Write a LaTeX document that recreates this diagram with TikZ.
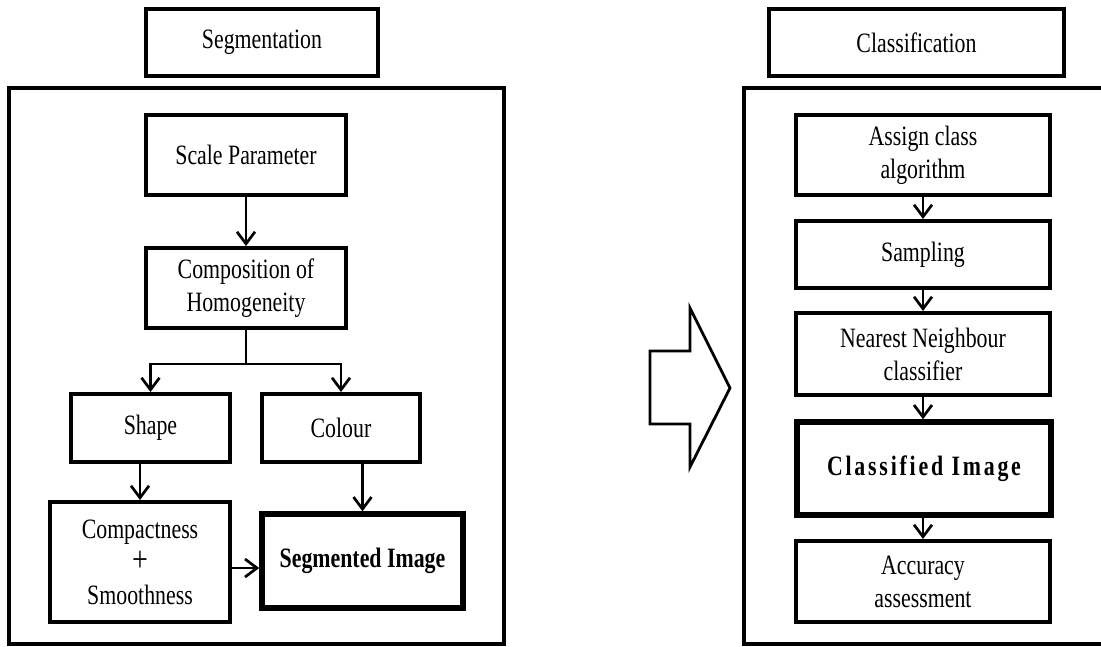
\documentclass[tikz,border=0pt]{standalone}
\usepackage{fontspec}
\setmainfont{Liberation Serif}[FakeStretch=0.78]
\usetikzlibrary{arrows.meta,positioning}
\tikzset{
  box/.style={draw, line width=4pt, inner sep=0pt, align=center, font=\fontsize{28}{33}\selectfont},
  boldbox/.style={box, line width=5.5pt, font=\fontsize{28}{33}\selectfont\bfseries},
  outer/.style={draw, line width=3.5pt},
  arr/.style={line width=2.7pt, -{Straight Barb[length=12pt,width=18pt,line width=2.7pt]}},
  bigarrow/.style={draw, line width=2.8pt, line join=miter},
}
\begin{document}
\begin{tikzpicture}[x=1pt,y=-1pt]
\useasboundingbox (0,0) rectangle (1101,646);
\clip (0,0) rectangle (1101,646);
\fill[white] (0,0) rectangle (1101,646);

% outer frames
\draw[outer] (9,88) rectangle (504,644);
\draw[outer] (744,88) rectangle (1112,644);

% headers
\node[box, minimum width=232pt, minimum height=67pt] (segh) at (262,42.5) {Segmentation};
\node[box, minimum width=295pt, minimum height=67pt] (clah) at (916.5,42.5) {Classification};

% segmentation flow
\node[box, minimum width=200pt, minimum height=80pt] (scale) at (246,155) {Scale Parameter};
\node[box, minimum width=200pt, minimum height=80pt] (comp) at (246,288) {Composition of\\Homogeneity};
\node[box, minimum width=159pt, minimum height=68pt] (shape) at (150.5,428) {Shape};
\node[box, minimum width=158pt, minimum height=68pt] (colour) at (341,428) {Colour};
\node[box, minimum width=180pt, minimum height=120pt] (cpt) at (140,562) {Compactness\\{\fontsize{36}{33}\selectfont +}\\Smoothness};
\node[boldbox, minimum width=201pt, minimum height=94pt] (seg) at (362.5,561) {Segmented Image};

\draw[arr] (scale.south) -- (comp.north);
\draw[line width=2.7pt] (comp.south) -- ++(0,34) coordinate (split);
\draw[arr] (split) -| (shape.north);
\draw[arr] (split) -| (colour.north);
\draw[arr] (shape.south -| cpt.north) -- (cpt.north);
\draw[arr] (colour.south -| seg.north) -- (seg.north);
\draw[arr] ([yshift=-6pt]cpt.east) -- ([yshift=-6pt]cpt.east -| seg.west);

% big arrow
\draw[bigarrow] (650,351) -- (690,351) -- (690,308) -- (730,388) -- (690,467) -- (690,424) -- (650,424) -- cycle;

% classification flow
\node[box, minimum width=254pt, minimum height=80pt] (assign) at (923,155) {Assign class\\algorithm};
\node[box, minimum width=254pt, minimum height=67pt] (samp) at (923,254.5) {Sampling};
\node[box, minimum width=254pt, minimum height=82pt] (nn) at (923,354) {Nearest Neighbour\\classifier};
\node[boldbox, minimum width=254pt, minimum height=93pt] (cls) at (924,468.5) {\addfontfeature{LetterSpace=10}Classified Image};
\node[box, minimum width=254pt, minimum height=81pt] (acc) at (923,581.5) {Accuracy\\assessment};

\draw[arr] (assign.south) -- (samp.north);
\draw[arr] (samp.south) -- (nn.north);
\draw[arr] (nn.south) -- (nn.south |- cls.north);
\draw[arr] (cls.south -| acc.north) -- (acc.north);
\end{tikzpicture}
\end{document}
